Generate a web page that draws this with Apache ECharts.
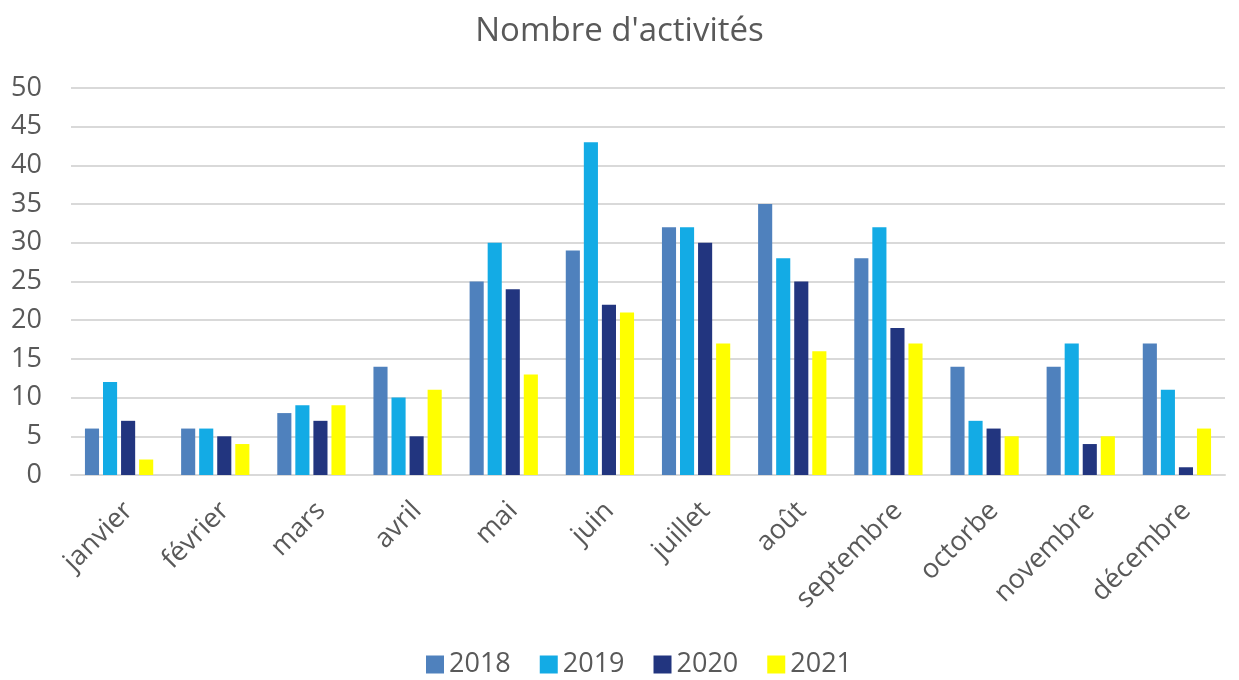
<!DOCTYPE html>
<html>
<head>
<meta charset="utf-8">
<script src="https://cdn.jsdelivr.net/npm/echarts@6/dist/echarts.min.js"></script>
<style>
  html, body { margin: 0; padding: 0; background: #fff; }
  #main { width: 1239px; height: 680px; }
</style>
</head>
<body>
<div id="main"></div>
<script>
// Données
const mois = ['janvier', 'février', 'mars', 'avril', 'mai', 'juin', 'juillet', 'août', 'septembre', 'octorbe', 'novembre', 'décembre'];
const annees = ['2018', '2019', '2020', '2021'];
const v2018 = [6, 6, 8, 14, 25, 29, 32, 35, 28, 14, 14, 17];
const v2019 = [12, 6, 9, 10, 30, 43, 32, 28, 32, 7, 17, 11];
const v2020 = [7, 5, 7, 5, 24, 22, 30, 25, 19, 6, 4, 1];
const v2021 = [2, 4, 9, 11, 13, 21, 17, 16, 17, 5, 5, 6];
const couleurs = ['#4F81BD', '#13ABE5', '#22357F', '#FFFF00'];

const chart = echarts.init(document.getElementById('main'));
const font = 'Open Sans, Noto Sans, sans-serif';
const valeurs = [v2018, v2019, v2020, v2021];

chart.setOption({
  animation: false,
  color: couleurs,
  title: {
    text: "Nombre d'activités",
    left: 'center',
    top: 10,
    textStyle: { fontFamily: font, fontSize: 33, fontWeight: 'normal', color: '#595959' }
  },
  legend: {
    data: annees,
    top: 646,
    left: 421,
    itemWidth: 18,
    itemHeight: 18,
    itemGap: 29,
    icon: 'rect',
    textStyle: { fontFamily: font, fontSize: 27, color: '#595959' }
  },
  grid: { left: 71, right: 14, top: 88, bottom: 205 },
  xAxis: {
    type: 'category',
    data: mois,
    axisLine: { lineStyle: { color: '#D9D9D9', width: 2 } },
    axisTick: { show: false },
    axisLabel: {
      rotate: 45, fontFamily: font, fontSize: 27, color: '#595959', margin: 22,
      verticalAlign: 'top'
    }
  },
  yAxis: {
    type: 'value',
    min: 0,
    max: 50,
    interval: 5,
    axisLine: { show: false },
    axisTick: { show: false },
    splitLine: { lineStyle: { color: '#D9D9D9', width: 2 } },
    axisLabel: { fontFamily: font, fontSize: 27, color: '#595959', margin: 29 }
  },
  series: annees.map((a, i) => ({
    name: a,
    type: 'bar',
    data: valeurs[i],
    barGap: '28%',
    barCategoryGap: '29%'
  }))
});
</script>
</body>
</html>
